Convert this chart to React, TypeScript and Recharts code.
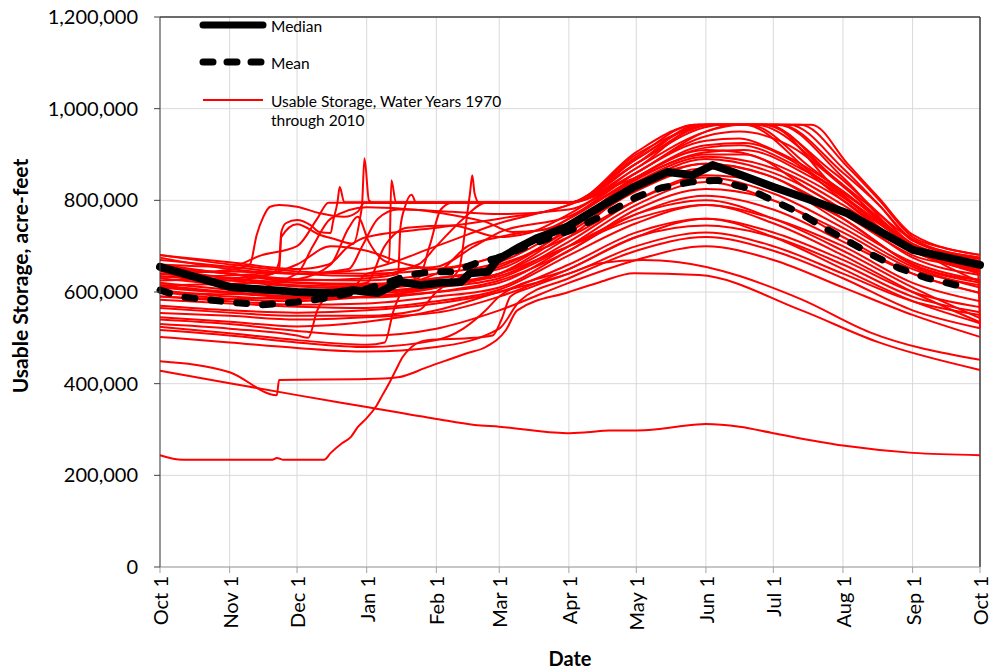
import React from 'react';
import { LineChart, Line, XAxis, YAxis, CartesianGrid, ReferenceLine } from 'recharts';

// x = days since Oct 1, y = usable storage in thousand acre-feet
const TICK_DAYS = [0, 31, 61, 92, 123, 151, 182, 212, 243, 273, 304, 335, 365];
const TICK_LABELS = ['Oct 1', 'Nov 1', 'Dec 1', 'Jan 1', 'Feb 1', 'Mar 1', 'Apr 1', 'May 1', 'Jun 1', 'Jul 1', 'Aug 1', 'Sep 1', 'Oct 1'];
const Y_TICKS = [0, 200000, 400000, 600000, 800000, 1000000, 1200000];

const MEDIAN = [[0, 655], [31, 611], [61, 600], [77, 598], [86, 604], [97, 598], [107, 622], [116, 615], [125, 620], [134, 622], [138, 641], [146, 644], [150, 670], [160, 698], [168, 718], [181, 742], [196, 786], [211, 829], [226, 862], [237, 855], [246, 877], [255, 862], [273, 829], [290, 800], [306, 772], [335, 692], [365, 659]];

const MEAN = [[0, 604], [10, 589], [31, 578], [45, 572], [61, 578], [77, 589], [90, 604], [102, 622], [111, 637], [120, 644], [130, 644], [141, 663], [150, 674], [165, 703], [183, 735], [196, 764], [212, 807], [223, 827], [236, 840], [248, 844], [261, 827], [285, 772], [295, 742], [307, 709], [317, 681], [329, 652], [341, 631], [357, 612]];

// years that filled to the flood-control limit
const WET_YEARS = [
  [[0, 640], [31, 648], [40, 660], [43, 724], [46, 764], [49, 786], [53, 790], [61, 786], [71, 772], [82, 764], [88, 775], [91, 795], [182, 795], [212, 900], [232, 950], [240, 965], [285, 965], [306, 873], [320, 801], [335, 720], [350, 695], [365, 681]],
  [[0, 625], [31, 630], [50, 640], [53, 665], [54, 731], [56, 750], [61, 757], [67, 746], [71, 731], [76, 729], [77, 753], [79, 796], [80, 829], [82, 796], [182, 795], [212, 890], [235, 955], [243, 965], [276, 965], [304, 860], [320, 790], [335, 715], [365, 675]],
  [[0, 633], [31, 636], [53, 645], [54, 720], [61, 748], [71, 725], [78, 715], [86, 705], [89, 760], [90, 795], [91, 892], [93, 800], [95, 795], [182, 795], [212, 880], [240, 965], [270, 965], [300, 850], [320, 770], [335, 705], [365, 663]],
  [[0, 615], [31, 618], [61, 628], [76, 660], [84, 740], [88, 764], [93, 709], [102, 665], [103, 844], [105, 796], [182, 795], [212, 870], [243, 965], [260, 965], [290, 860], [318, 760], [335, 700], [365, 660]],
  [[0, 600], [31, 585], [61, 580], [92, 590], [123, 610], [133, 648], [136, 742], [138, 816], [139, 855], [140, 816], [142, 795], [182, 795], [212, 860], [243, 950], [255, 965], [270, 965], [300, 830], [335, 690], [365, 650]],
  [[0, 650], [31, 640], [61, 625], [92, 630], [106, 640], [107, 740], [109, 785], [112, 812], [114, 795], [182, 795], [212, 905], [230, 955], [238, 965], [290, 965], [306, 880], [320, 805], [335, 725], [365, 681]],
  [[0, 660], [31, 655], [45, 680], [61, 700], [70, 760], [75, 795], [182, 795], [212, 895], [238, 965], [280, 965], [304, 870], [320, 790], [335, 712], [365, 672]],
  [[0, 640], [31, 645], [61, 640], [84, 650], [90, 700], [97, 760], [106, 780], [130, 775], [151, 770], [182, 780], [212, 870], [243, 950], [258, 965], [275, 965], [304, 850], [335, 700], [365, 665]],
  [[0, 655], [31, 640], [61, 620], [92, 615], [115, 630], [120, 700], [125, 780], [130, 795], [182, 795], [212, 880], [243, 960], [250, 965], [262, 965], [290, 870], [320, 760], [335, 705], [365, 668]],
  [[0, 670], [31, 655], [61, 640], [92, 635], [115, 660], [123, 700], [135, 760], [145, 795], [182, 795], [212, 890], [243, 965], [265, 965], [300, 850], [335, 700], [365, 665]],
  [[0, 680], [31, 665], [61, 650], [75, 660], [84, 700], [92, 720], [123, 740], [151, 760], [182, 790], [212, 880], [240, 960], [245, 965], [268, 965], [300, 860], [335, 715], [365, 675]],
];

const AVERAGE_YEARS = [
  [[0, 681], [31, 660], [61, 645], [92, 640], [123, 650], [151, 680], [182, 760], [212, 860], [243, 930], [258, 935], [273, 910], [304, 820], [335, 700], [365, 655]],
  [[0, 650], [31, 630], [61, 615], [92, 612], [123, 630], [151, 650], [182, 740], [212, 850], [243, 910], [258, 905], [273, 880], [304, 800], [335, 690], [365, 648]],
  [[0, 630], [31, 615], [61, 605], [92, 600], [123, 615], [151, 640], [182, 720], [212, 830], [243, 890], [273, 860], [304, 780], [335, 675], [365, 637]],
  [[0, 620], [31, 605], [61, 598], [92, 598], [123, 610], [151, 640], [182, 730], [212, 820], [243, 870], [273, 830], [304, 760], [335, 660], [365, 626]],
  [[0, 675], [31, 650], [61, 640], [92, 650], [123, 700], [151, 750], [182, 790], [212, 850], [243, 900], [260, 900], [290, 820], [335, 690], [365, 650]],
  [[0, 610], [31, 600], [61, 640], [68, 700], [76, 760], [92, 785], [115, 779], [130, 768], [145, 753], [157, 731], [170, 735], [182, 760], [212, 850], [243, 920], [260, 925], [280, 890], [304, 800], [335, 690], [365, 644]],
  [[0, 600], [31, 595], [61, 600], [92, 620], [100, 700], [110, 740], [130, 745], [151, 720], [165, 730], [182, 770], [212, 860], [243, 940], [258, 950], [280, 920], [304, 830], [335, 700], [365, 622]],
  [[0, 590], [31, 585], [61, 590], [92, 605], [123, 640], [137, 700], [151, 720], [182, 750], [212, 830], [243, 880], [273, 850], [304, 760], [335, 660], [365, 620]],
  [[0, 640], [31, 625], [61, 612], [92, 608], [123, 618], [151, 635], [182, 710], [212, 800], [243, 855], [273, 835], [304, 750], [335, 665], [365, 626]],
  [[0, 615], [31, 600], [61, 590], [92, 588], [123, 600], [151, 625], [182, 690], [212, 780], [243, 825], [273, 800], [304, 720], [335, 640], [365, 598]],
  [[0, 660], [31, 640], [61, 628], [92, 625], [123, 640], [151, 665], [182, 745], [212, 845], [243, 905], [260, 910], [290, 850], [335, 705], [365, 660]],
  [[0, 645], [31, 630], [61, 620], [92, 618], [123, 630], [151, 655], [182, 735], [212, 835], [243, 880], [273, 850], [304, 770], [335, 680], [364, 641], [365, 521]],
  [[0, 604], [31, 590], [61, 585], [92, 590], [123, 600], [151, 620], [182, 700], [212, 790], [243, 840], [273, 800], [304, 730], [335, 650], [365, 615]],
  [[0, 590], [31, 580], [61, 572], [92, 575], [123, 590], [151, 610], [182, 690], [212, 770], [243, 810], [273, 780], [304, 710], [335, 640], [365, 598]],
  [[0, 635], [31, 625], [61, 660], [76, 700], [92, 690], [110, 660], [123, 650], [151, 680], [182, 750], [212, 840], [243, 895], [273, 870], [304, 790], [335, 690], [365, 645]],
  [[0, 612], [31, 598], [61, 588], [84, 600], [92, 640], [107, 650], [123, 655], [140, 700], [151, 730], [182, 765], [212, 850], [243, 915], [258, 920], [285, 870], [320, 760], [335, 700], [365, 640]],
];

const DRY_YEARS = [
  [[0, 583], [31, 575], [61, 568], [92, 565], [123, 580], [151, 605], [182, 680], [212, 750], [243, 790], [273, 760], [304, 700], [335, 620], [365, 580]],
  [[0, 570], [31, 560], [61, 555], [92, 560], [123, 575], [151, 600], [182, 660], [212, 730], [243, 760], [273, 730], [304, 670], [335, 600], [365, 567]],
  [[0, 565], [31, 555], [61, 548], [92, 548], [115, 560], [123, 600], [137, 640], [151, 660], [182, 720], [212, 800], [243, 850], [273, 815], [304, 740], [335, 655], [365, 610]],
  [[0, 554], [31, 548], [61, 540], [92, 545], [123, 555], [151, 590], [182, 650], [212, 720], [243, 745], [273, 720], [304, 660], [335, 590], [365, 556]],
  [[0, 545], [31, 535], [61, 525], [92, 535], [123, 560], [151, 600], [182, 640], [212, 700], [243, 730], [273, 700], [304, 640], [335, 580], [365, 550]],
  [[0, 530], [31, 520], [61, 505], [66, 500], [70, 560], [75, 590], [92, 600], [123, 610], [151, 630], [182, 700], [212, 770], [243, 800], [273, 760], [304, 690], [335, 610], [365, 543]],
  [[0, 524], [31, 510], [61, 495], [92, 485], [100, 490], [104, 560], [108, 600], [123, 615], [151, 640], [182, 700], [212, 760], [243, 790], [273, 750], [304, 680], [335, 600], [365, 534]],
  [[0, 517], [31, 505], [61, 490], [92, 480], [123, 495], [135, 520], [145, 560], [151, 590], [182, 650], [212, 720], [243, 760], [273, 720], [304, 650], [335, 580], [365, 532]],
  [[0, 502], [31, 490], [61, 478], [92, 470], [123, 480], [151, 520], [160, 580], [182, 630], [212, 690], [243, 720], [273, 690], [304, 630], [335, 560], [365, 521]],
  [[0, 540], [31, 530], [61, 515], [92, 505], [123, 520], [151, 560], [182, 620], [212, 670], [243, 700], [273, 670], [304, 610], [335, 550], [365, 502]],
  [[0, 449], [31, 425], [52, 375], [53, 408], [92, 410], [106, 414], [119, 436], [137, 467], [145, 480], [154, 517], [159, 560], [182, 600], [196, 622], [211, 641], [240, 637], [285, 561], [320, 490], [365, 430]],
  [[0, 244], [10, 234], [50, 234], [52, 238], [55, 234], [73, 234], [76, 249], [81, 270], [85, 284], [88, 305], [92, 325], [96, 349], [99, 375], [102, 401], [105, 430], [108, 458], [112, 480], [119, 495], [140, 500], [148, 505], [152, 540], [156, 590], [165, 610], [182, 640], [196, 663], [215, 670], [231, 665], [285, 585], [316, 512], [365, 452]],
  [[0, 428], [31, 401], [61, 375], [92, 349], [123, 323], [140, 310], [151, 306], [181, 292], [190, 294], [200, 298], [212, 298], [220, 300], [230, 306], [243, 312], [258, 306], [273, 292], [304, 265], [335, 249], [365, 244]],
];

const toPoints = (pairs: number[][]) => pairs.map(([d, v]) => ({ d, v: v * 1000 }));

const FONT = 'Lato, "Open Sans", sans-serif';

const DateTick = ({ x, y, payload }: any) => {
  const i = TICK_DAYS.indexOf(payload.value);
  return (
    <text
      transform={`translate(${x},${y}) rotate(-90)`}
      textAnchor="end"
      dominantBaseline="central"
      fontFamily={FONT}
      fontSize={20}
      fill="#000"
    >
      {TICK_LABELS[i]}
    </text>
  );
};

const Legend = () => (
  <svg width={993} height={670} style={{ position: 'absolute', left: 0, top: 0, pointerEvents: 'none' }}>
    <line x1={203} y1={25} x2={263} y2={25} stroke="#000" strokeWidth={7} strokeLinecap="round" />
    <text x={271} y={26} dominantBaseline="central" fontFamily={FONT} fontSize={15.5}>Median</text>
    <line x1={203} y1={62} x2={263} y2={62} stroke="#000" strokeWidth={7} strokeLinecap="round" strokeDasharray="10 14" />
    <text x={271} y={63} dominantBaseline="central" fontFamily={FONT} fontSize={15.5}>Mean</text>
    <line x1={203} y1={100} x2={263} y2={100} stroke="#ff0000" strokeWidth={2} />
    <text x={271} y={101} dominantBaseline="central" fontFamily={FONT} fontSize={15.5}>Usable Storage, Water Years 1970</text>
    <text x={271} y={120} dominantBaseline="central" fontFamily={FONT} fontSize={15.5}>through 2010</text>
    <text transform="translate(19,276) rotate(-90)" textAnchor="middle" dominantBaseline="central"
      fontFamily={FONT} fontSize={21} fontWeight="bold">Usable Storage, acre-feet</text>
    <text x={570} y={658} textAnchor="middle" dominantBaseline="central"
      fontFamily={FONT} fontSize={20} fontWeight="bold">Date</text>
  </svg>
);

export default function App() {
  const years = [...WET_YEARS, ...AVERAGE_YEARS, ...DRY_YEARS];
  return (
    <div style={{ position: 'absolute', left: 0, top: 0, width: 993, height: 670, background: '#fff' }}>
      <LineChart width={993} height={670} margin={{ top: 17, right: 13, bottom: 0, left: 0 }}>
        <CartesianGrid stroke="#d9d9d9" />
        <XAxis
          type="number"
          dataKey="d"
          domain={[0, 365]}
          ticks={TICK_DAYS}
          interval={0}
          height={103}
          stroke="#a0a0a0"
          tickSize={6}
          tickMargin={3}
          tick={<DateTick />}
        />
        <YAxis
          type="number"
          domain={[0, 1200000]}
          ticks={Y_TICKS}
          interval={0}
          width={160}
          stroke="#404040"
          tickSize={6}
          tickMargin={16}
          tickFormatter={(v) => Number(v).toLocaleString('en-US')}
          tick={{ fill: '#000', fontSize: 20, fontFamily: FONT }}
        />
        <ReferenceLine y={1200000} stroke="#404040" strokeWidth={1.5} />
        <ReferenceLine x={365} stroke="#404040" strokeWidth={1.5} />
        {years.map((pairs, i) => (
          <Line
            key={`yr-${i}`}
            data={toPoints(pairs)}
            dataKey="v"
            type="monotone"
            stroke="#ff0000"
            strokeWidth={2}
            dot={false}
            activeDot={false}
            isAnimationActive={false}
          />
        ))}
        <Line
          data={toPoints(MEDIAN)}
          dataKey="v"
          type="linear"
          stroke="#000"
          strokeWidth={8}
          strokeLinecap="round"
          strokeLinejoin="round"
          dot={false}
          activeDot={false}
          isAnimationActive={false}
        />
        <Line
          data={toPoints(MEAN)}
          dataKey="v"
          type="linear"
          stroke="#000"
          strokeWidth={7}
          strokeDasharray="10 16"
          strokeLinecap="round"
          strokeLinejoin="round"
          dot={false}
          activeDot={false}
          isAnimationActive={false}
        />
      </LineChart>
      <Legend />
    </div>
  );
}
